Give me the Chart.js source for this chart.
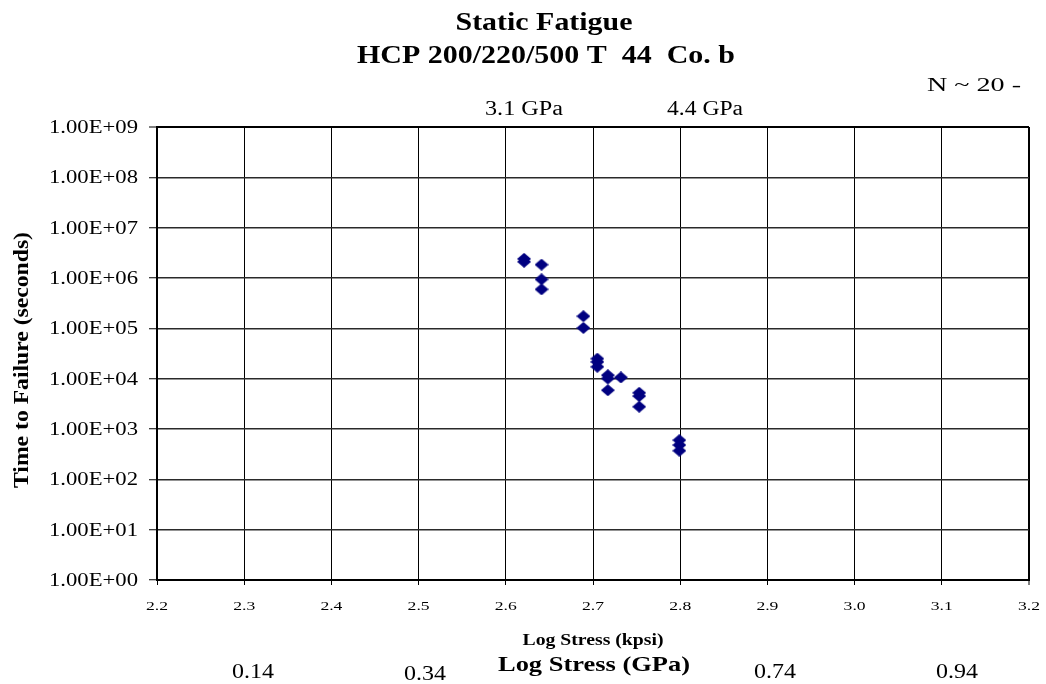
<!DOCTYPE html>
<html>
<head>
<meta charset="utf-8">
<script src="https://cdn.jsdelivr.net/npm/chart.js"></script>
<style>
  body{margin:0;background:#fff;}
  #wrap{width:1046px;height:684px;}
</style>
</head>
<body>
<div id="wrap"><canvas id="chart" width="1046" height="684"></canvas></div>
<script>
// data
const logStress = [2.621, 2.621, 2.641, 2.641, 2.641, 2.689, 2.689, 2.705, 2.705, 2.705,
                   2.717, 2.717, 2.717, 2.732, 2.753, 2.753, 2.753, 2.799, 2.799, 2.799];
const timeToFailure = [2.4e6, 2.1e6, 1.84e6, 9.4e5, 5.95e5, 1.74e5, 1.02e5, 2.5e4, 2.15e4, 1.72e4,
                       1.17e4, 1.01e4, 5.9e3, 1.06e4, 5.25e3, 4.5e3, 2.77e3, 6.0e2, 4.8e2, 3.7e2];

const xTickLabels = ['2.2','2.3','2.4','2.5','2.6','2.7','2.8','2.9','3.0','3.1','3.2'];
const yTickLabels = ['1.00E+00','1.00E+01','1.00E+02','1.00E+03','1.00E+04',
                     '1.00E+05','1.00E+06','1.00E+07','1.00E+08','1.00E+09'];
const yTickValues = yTickLabels.map(Number);
const xTickValues = xTickLabels.map(Number);
const gpaLabels = ['0.14','0.34','0.74','0.94'];
const refLabels = ['3.1 GPa','4.4 GPa'];

const FONT = '"Liberation Serif", "Times New Roman", serif';

// diamond marker, a bit wider than tall like the original
function diamond(w, h, color){
  const c = document.createElement('canvas');
  c.width = w; c.height = h;
  const g = c.getContext('2d');
  g.fillStyle = color;
  g.beginPath();
  g.moveTo(w/2, 0); g.lineTo(w, h/2); g.lineTo(w/2, h); g.lineTo(0, h/2);
  g.closePath(); g.fill();
  return c;
}

// text squeezed/stretched to a measured width
function fitText(ctx, str, x, y, size, bold, width, align){
  ctx.font = (bold ? 'bold ' : '') + size + 'px ' + FONT;
  const w = ctx.measureText(str).width;
  const sx = width ? width / w : 1;
  ctx.save();
  ctx.translate(x, y);
  ctx.scale(sx, 1);
  ctx.textAlign = align || 'center';
  ctx.textBaseline = 'alphabetic';
  ctx.fillStyle = '#000';
  ctx.fillText(str, 0, 0);
  ctx.restore();
}

const textPlugin = {
  id: 'texts',
  afterDraw(chart){
    const ctx = chart.ctx;
    const xs = chart.scales.x, ys = chart.scales.y;

    // tick labels
    xTickLabels.forEach((lab, i) => {
      fitText(ctx, lab, xs.getPixelForValue(xTickValues[i]), 610, 13, false, 22);
    });
    yTickLabels.forEach((lab, i) => {
      fitText(ctx, lab, 138, ys.getPixelForValue(yTickValues[i]) + 6, 19, false, 89, 'right');
    });

    // titles
    fitText(ctx, 'Static Fatigue', 544, 30, 26, true, 177);
    fitText(ctx, 'HCP 200/220/500 T  44  Co. b', 546, 63, 26, true, 378);
    fitText(ctx, 'N ~ 20 -', 974, 91, 18, false, 94);

    fitText(ctx, refLabels[0], 524, 115, 20, false, 78);
    fitText(ctx, refLabels[1], 705, 115, 20, false, 76);

    fitText(ctx, 'Log Stress (kpsi)', 593, 645, 16, true, 141);
    fitText(ctx, 'Log Stress (GPa)', 594, 671, 22, true, 192);

    const gpaX = [253, 425, 775, 957];
    const gpaY = [678, 680, 678, 678];
    gpaLabels.forEach((lab, i) => fitText(ctx, lab, gpaX[i], gpaY[i], 21, false, 42));

    // rotated y title
    ctx.save();
    ctx.translate(22, 360);
    ctx.rotate(-Math.PI/2);
    ctx.font = 'bold 22px ' + FONT;
    const t = 'Time to Failure (seconds)';
    const sx = 256 / ctx.measureText(t).width;
    ctx.scale(sx, 1);
    ctx.textAlign = 'center';
    ctx.textBaseline = 'middle';
    ctx.fillStyle = '#000';
    ctx.fillText(t, 0, 0);
    ctx.restore();
  }
};

new Chart(document.getElementById('chart'), {
  type: 'scatter',
  data: {
    datasets: [{
      data: logStress.map((x, i) => ({x: x, y: timeToFailure[i]})),
      pointStyle: diamond(14, 12, '#000080'),
      pointRadius: 7,
      backgroundColor: '#000080',
      borderColor: '#000080'
    }]
  },
  options: {
    responsive: false,
    devicePixelRatio: 1,
    animation: false,
    layout: {padding: {left: 0, right: 17, top: 127, bottom: 0}},
    plugins: {legend: {display: false}, title: {display: false}, tooltip: {enabled: false}},
    scales: {
      x: {
        type: 'linear', min: 2.2, max: 3.2,
        afterBuildTicks: s => { s.ticks = xTickValues.map(v => ({value: v})); },
        afterFit: s => { s.height = 104; },
        ticks: {display: false},
        grid: {
          color: '#000',
          lineWidth: c => (c.tick && c.tick.value > 3.19) ? 2 : 1,
          tickLength: 5, tickColor: '#000', tickWidth: 1
        },
        border: {color: '#000', width: 2}
      },
      y: {
        type: 'logarithmic', min: 1, max: 1e9,
        afterBuildTicks: s => { s.ticks = yTickValues.map(v => ({value: v})); },
        afterFit: s => { s.width = 157; },
        ticks: {display: false},
        grid: {
          color: c => (c.tick && c.tick.value >= 1e9) ? '#000' : '#2a2a2a',
          lineWidth: c => (c.tick && c.tick.value >= 1e9) ? 2 : 1.5,
          tickLength: 8, tickColor: '#000', tickWidth: 1
        },
        border: {color: '#000', width: 2}
      }
    }
  },
  plugins: [textPlugin]
});
</script>
</body>
</html>
